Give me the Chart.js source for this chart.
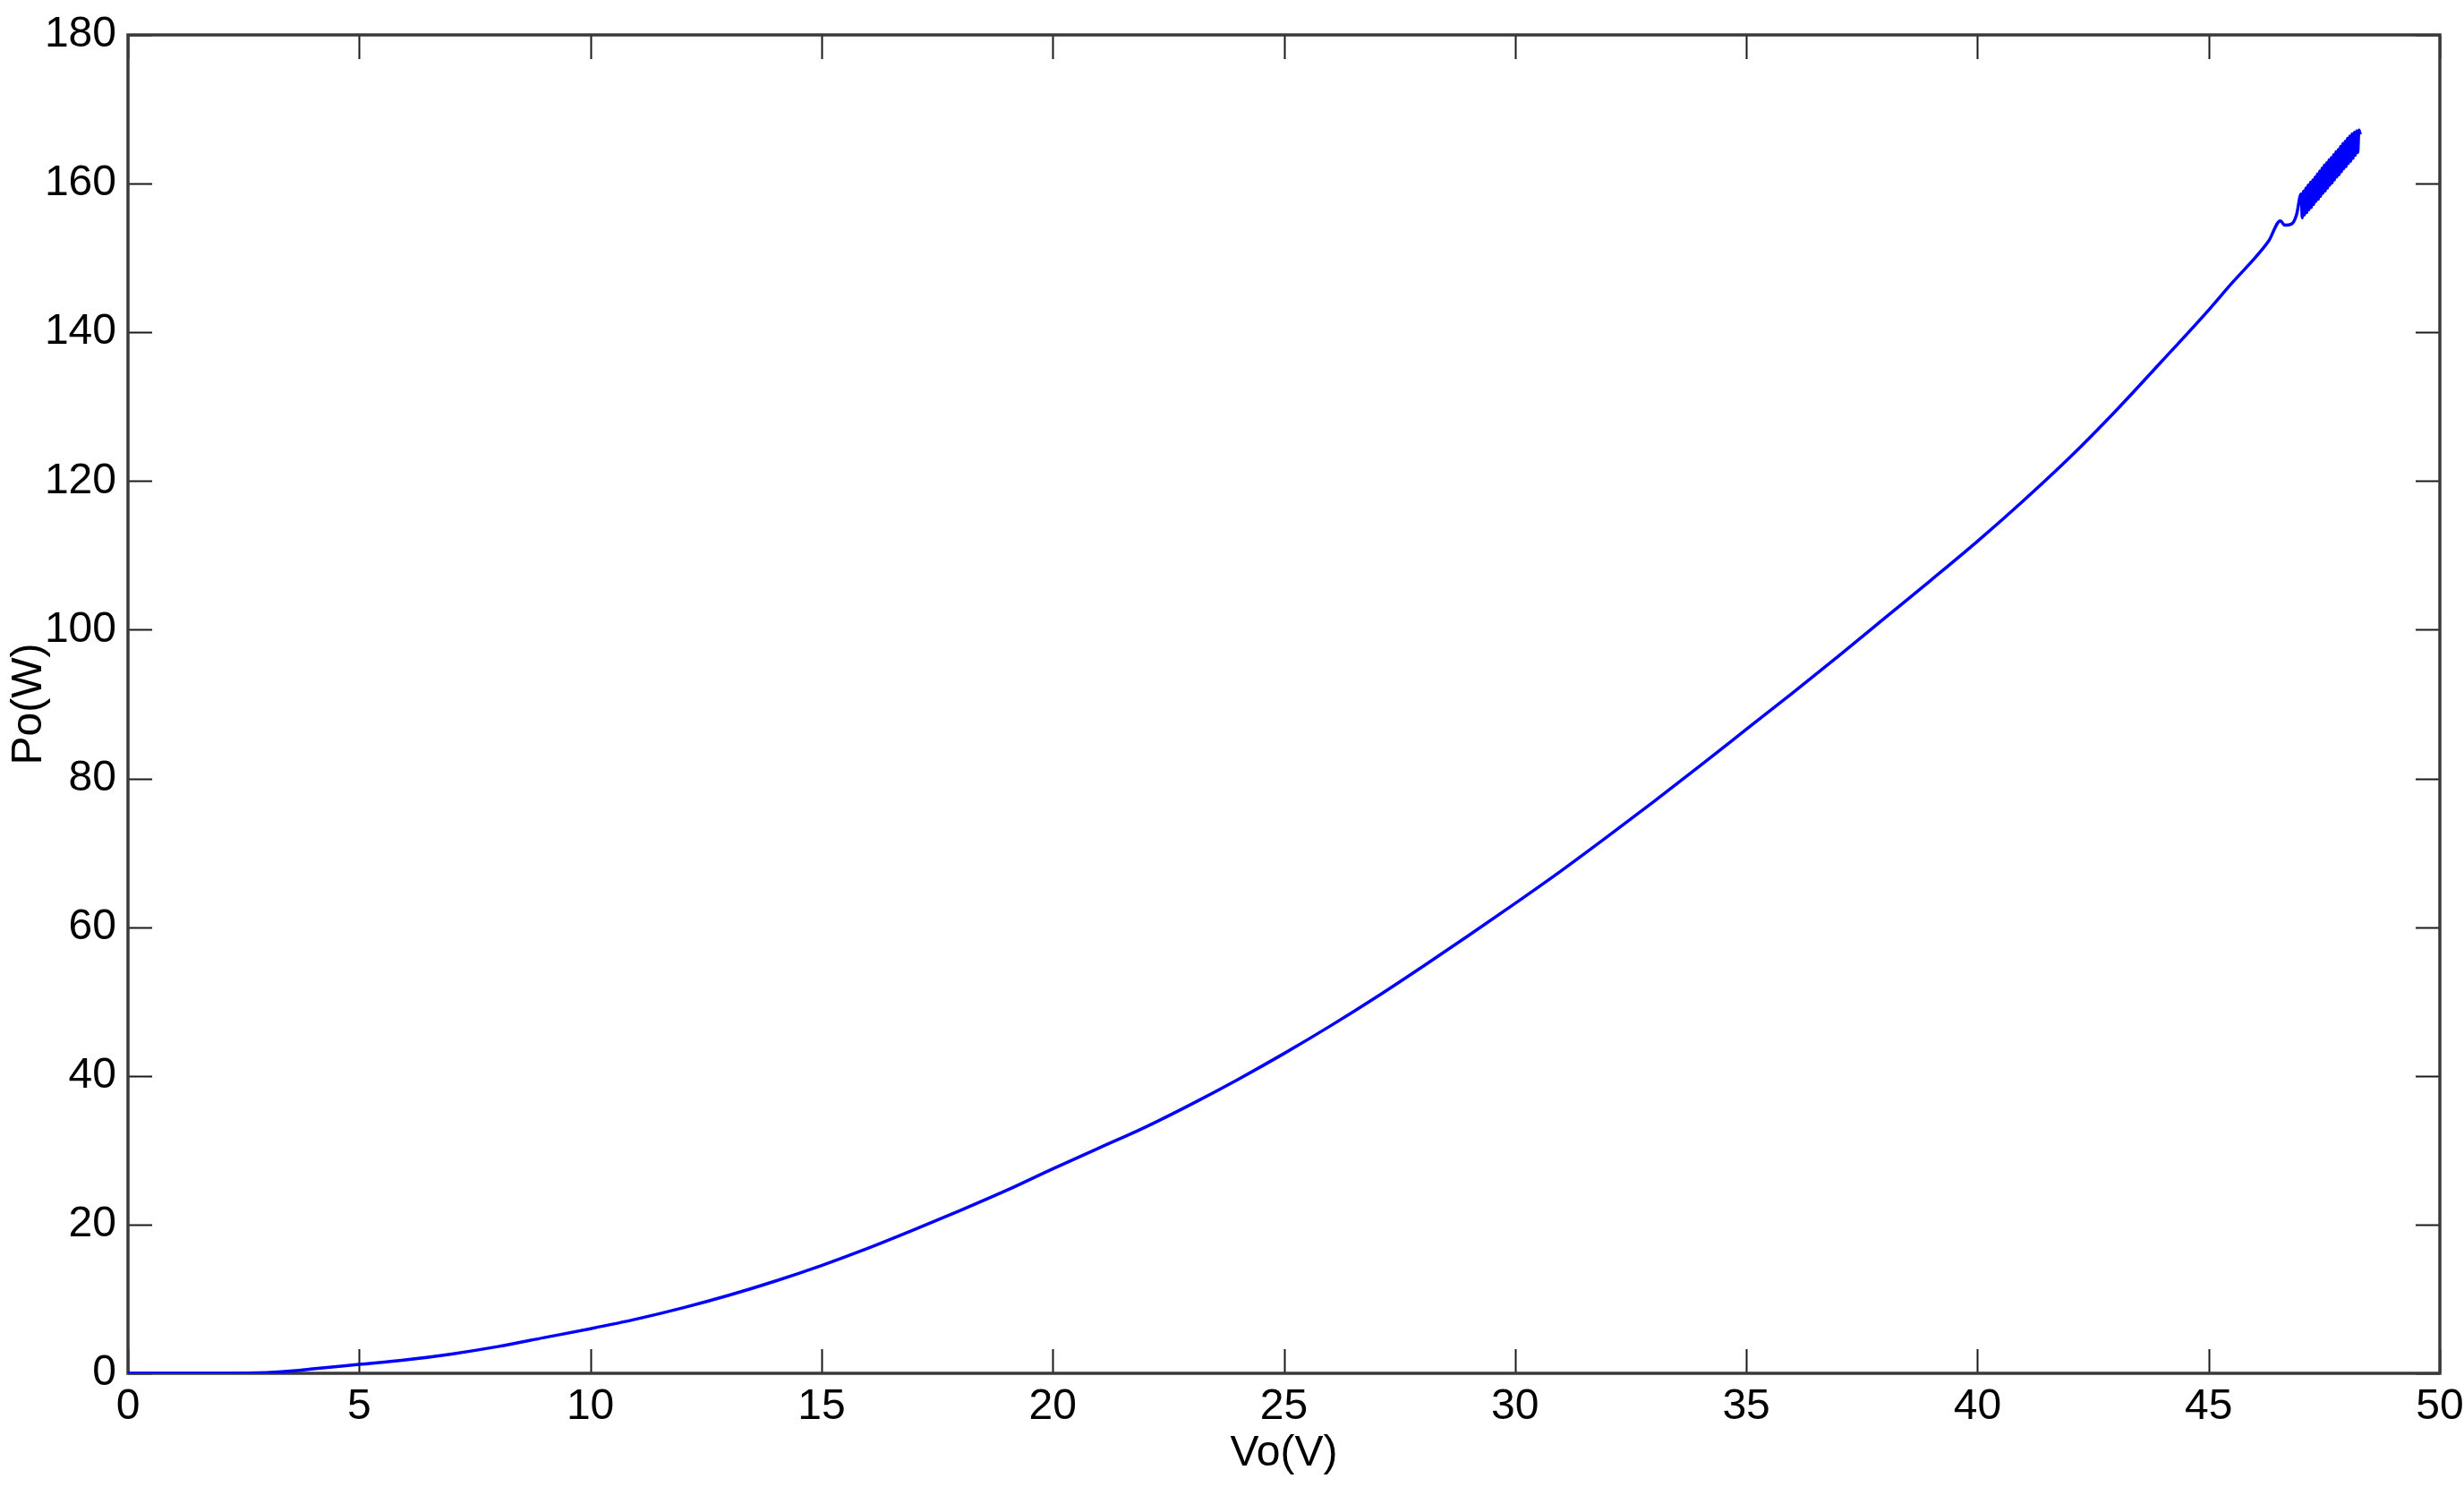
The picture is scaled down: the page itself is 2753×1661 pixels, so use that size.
<!DOCTYPE html>
<html>
<head>
<meta charset="utf-8">
<title>Po vs Vo</title>
<script src="https://cdn.jsdelivr.net/npm/chart.js@4.4.1/dist/chart.umd.min.js"></script>
<style>
  html, body { margin: 0; padding: 0; background: #fff; }
  #wrap { width: 2753px; height: 1661px; }
</style>
</head>
<body>
<div id="wrap"><canvas id="grafico"></canvas></div>
<script>
// output voltage (V) and output power (W)
const vo = [0, 1, 2, 3, 3.7, 4, 5, 6, 7, 8, 9, 10, 11, 12, 13, 14, 15, 16, 17, 18, 19,
  20, 21, 22, 23, 24, 25, 26, 27, 28, 29, 30, 31, 32, 33, 34, 35, 36, 37, 38, 39,
  40, 41, 42, 43, 44, 45, 45.5, 46, 46.3, 46.55, 46.65, 46.8, 46.9]
const po = [0, 0, 0, 0.1, 0.4, 0.6, 1.2, 1.8, 2.6, 3.6, 4.8, 6.0, 7.3, 8.8, 10.5, 12.4, 14.5, 16.8, 19.3, 21.9, 24.6,
  27.5, 30.3, 33.1, 36.2, 39.5, 43.0, 46.7, 50.6, 54.7, 58.9, 63.2, 67.6, 72.2, 76.9, 81.7, 86.6, 91.5, 96.5, 101.6, 106.7,
  111.9, 117.4, 123.2, 129.5, 136.2, 143.0, 146.6, 150.0, 152.3, 155.0, 154.4, 154.6, 155.8]

// last stretch oscillates, so it was read as a zigzag between upper and lower edge of the band
const voFim = [47.0, 47.025, 47.05, 47.075, 47.1, 47.125, 47.15, 47.175, 47.2, 47.225, 47.25, 47.275,
  47.3, 47.325, 47.35, 47.375, 47.4, 47.425, 47.45, 47.475, 47.5, 47.525, 47.55, 47.575,
  47.6, 47.625, 47.65, 47.675, 47.7, 47.725, 47.75, 47.775, 47.8, 47.825, 47.85, 47.875,
  47.9, 47.925, 47.95, 47.975, 48.0, 48.025, 48.05, 48.075, 48.1, 48.125, 48.15, 48.175,
  48.2, 48.225, 48.25, 48.28]
const poFim = [158.6, 155.4, 159.0, 155.8, 159.4, 156.1, 159.8, 156.5, 160.2, 156.8, 160.5, 157.2,
  160.9, 157.6, 161.3, 157.9, 161.7, 158.3, 162.1, 158.7, 162.5, 159.0, 162.8, 159.4,
  163.2, 159.8, 163.5, 160.1, 163.9, 160.5, 164.3, 160.9, 164.6, 161.2, 165.0, 161.6,
  165.4, 162.0, 165.7, 162.3, 166.1, 162.7, 166.4, 163.0, 166.7, 163.4, 166.9, 163.8,
  167.1, 164.2, 167.2, 166.6]

const xTicks = [0, 5, 10, 15, 20, 25, 30, 35, 40, 45, 50]
const yTicks = [0, 20, 40, 60, 80, 100, 120, 140, 160, 180]

const fonte = { family: "'Liberation Sans', Arial, sans-serif", size: 48 }

// matlab style box with ticks pointing inwards on all four sides
const caixa = {
  id: 'caixa',
  beforeDatasetsDraw(chart) {
    const ctx = chart.ctx
    const a = chart.chartArea
    const sx = chart.scales.x
    const sy = chart.scales.y
    const len = 27
    ctx.save()
    ctx.strokeStyle = '#1a1a1a'
    ctx.lineWidth = 2
    for (let v of xTicks) {
      let px = Math.round(sx.getPixelForValue(v)) + 0.5
      ctx.beginPath()
      ctx.moveTo(px, a.bottom); ctx.lineTo(px, a.bottom - len)
      ctx.moveTo(px, a.top); ctx.lineTo(px, a.top + len)
      ctx.stroke()
    }
    for (let v of yTicks) {
      let py = Math.round(sy.getPixelForValue(v)) + 0.5
      ctx.beginPath()
      ctx.moveTo(a.left, py); ctx.lineTo(a.left + len, py)
      ctx.moveTo(a.right, py); ctx.lineTo(a.right - len, py)
      ctx.stroke()
    }
    ctx.strokeStyle = '#3a3a3a'
    ctx.lineWidth = 3.5
    ctx.strokeRect(a.left, a.top, a.right - a.left, a.bottom - a.top)
    ctx.restore()
  }
}

const pontos = vo.map((v, i) => ({ x: v, y: po[i] }))
  .concat(voFim.map((v, i) => ({ x: v, y: poFim[i] })))

new Chart(document.getElementById('grafico'), {
  type: 'line',
  data: {
    datasets: [{
      label: 'Po',
      data: pontos,
      borderColor: '#0000ff',
      borderWidth: 3.5,
      pointRadius: 0,
      cubicInterpolationMode: 'monotone',
      fill: false
    }]
  },
  options: {
    responsive: true,
    maintainAspectRatio: false,
    animation: false,
    layout: { padding: { top: 39, right: 27, left: 0, bottom: 0 } },
    plugins: { legend: { display: false }, tooltip: { enabled: false } },
    scales: {
      x: {
        type: 'linear',
        min: 0, max: 50,
        afterFit(s) { s.height = 127; s.paddingLeft = 0; s.paddingRight = 0 },
        afterBuildTicks(s) { s.ticks = xTicks.map(v => ({ value: v })) },
        grid: { display: false, drawTicks: false },
        border: { display: false },
        ticks: { color: '#000', font: fonte, padding: 9, maxRotation: 0, autoSkip: false },
        title: { display: true, text: 'Vo(V)', color: '#000', font: fonte, padding: { top: 0, bottom: 8 } }
      },
      y: {
        type: 'linear',
        min: 0, max: 180,
        afterFit(s) { s.width = 143; s.paddingTop = 0; s.paddingBottom = 0 },
        afterBuildTicks(s) { s.ticks = yTicks.map(v => ({ value: v })) },
        grid: { display: false, drawTicks: false },
        border: { display: false },
        ticks: { color: '#000', font: fonte, padding: 13, autoSkip: false },
        title: { display: true, text: 'Po(W)', color: '#000', font: fonte, padding: { top: 4, bottom: 0 } }
      }
    }
  },
  plugins: [caixa]
})
</script>
</body>
</html>
